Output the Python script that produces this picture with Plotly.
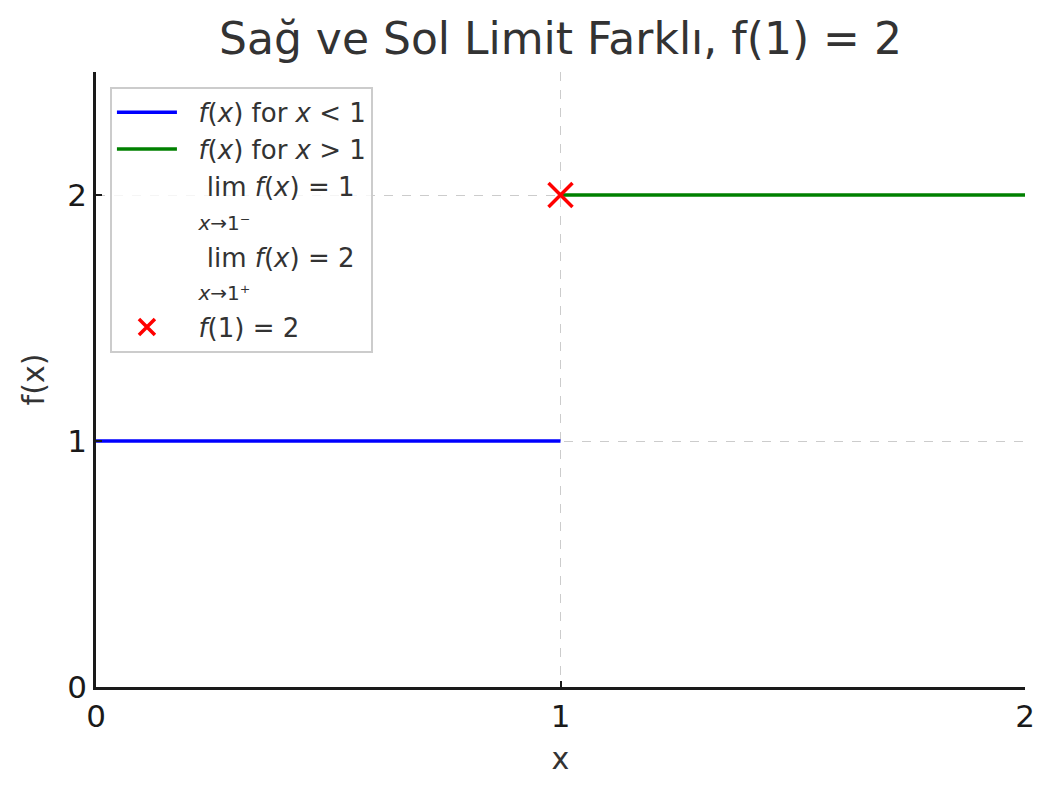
import plotly.graph_objects as go

# data
left_x = [0, 1]
left_y = [1, 1]
right_x = [1, 2]
right_y = [2, 2]
point_x = [1]
point_y = [2]
x_ticks = [0, 1, 2]
y_ticks = [0, 1, 2]

FONT = "DejaVu Sans"
TXT = "#333333"
PAD = "\u00a0\u00a0"
SUB = "<span style='font-size:20px'><i>x</i>→1{}</span>"

fig = go.Figure()
fig.add_trace(go.Scatter(x=left_x, y=left_y, mode="lines",
                         line=dict(color="#0000ff", width=3.5),
                         name=PAD + "<i>f</i>(<i>x</i>) for <i>x</i> &lt; 1"))
fig.add_trace(go.Scatter(x=right_x, y=right_y, mode="lines",
                         line=dict(color="#008000", width=3.5),
                         name=PAD + "<i>f</i>(<i>x</i>) for <i>x</i> &gt; 1"))
fig.add_trace(go.Scatter(x=[None], y=[None], mode="lines",
                         line=dict(color="rgba(0,0,0,0)", width=0),
                         name=PAD + "\u00a0lim <i>f</i>(<i>x</i>) = 1<br>" + PAD + SUB.format("⁻")))
fig.add_trace(go.Scatter(x=[None], y=[None], mode="lines",
                         line=dict(color="rgba(0,0,0,0)", width=0),
                         name=PAD + "\u00a0lim <i>f</i>(<i>x</i>) = 2<br>" + PAD + SUB.format("⁺")))
fig.add_trace(go.Scatter(x=point_x, y=point_y, mode="markers",
                         marker=dict(symbol="x-thin", size=24, color="red",
                                     line=dict(color="red", width=3.5)),
                         name=PAD + "<i>f</i>(1) = 2"))

axis_common = dict(
    showline=True, linecolor="#1a1a1a", linewidth=2.5,
    ticks="inside", ticklen=6, tickwidth=2, tickcolor="#1a1a1a",
    showgrid=True, gridcolor="#cccccc", gridwidth=1, griddash="dash",
    zeroline=False, mirror=False,
    tickfont=dict(family=FONT, size=31, color="#1a1a1a"),
)

fig.update_xaxes(range=[0, 2], tickvals=x_ticks, ticktext=[str(v) for v in x_ticks],
                 title=dict(text="x", font=dict(family=FONT, size=30, color=TXT), standoff=16),
                 **axis_common)
fig.update_yaxes(range=[0, 2.5], tickvals=y_ticks, ticktext=[str(v) for v in y_ticks],
                 title=dict(text="f(x)", font=dict(family=FONT, size=30, color=TXT), standoff=14),
                 **axis_common)

fig.update_layout(
    width=1055, height=795,
    margin=dict(l=96, r=30, t=72, b=108),
    paper_bgcolor="white", plot_bgcolor="white",
    title=dict(text="Sağ ve Sol Limit Farklı, f(1) = 2", x=0.5, xref="paper",
               y=1 - 39 / 795, yanchor="middle",
               font=dict(family=FONT, size=44, color=TXT)),
    legend=dict(x=0.015, y=0.976, xanchor="left", yanchor="top",
                bgcolor="rgba(255,255,255,0.8)", bordercolor="#cccccc", borderwidth=2,
                font=dict(family=FONT, size=26, color=TXT),
                itemwidth=60, tracegroupgap=4),
    showlegend=True,
)

fig.write_html("out.html")
